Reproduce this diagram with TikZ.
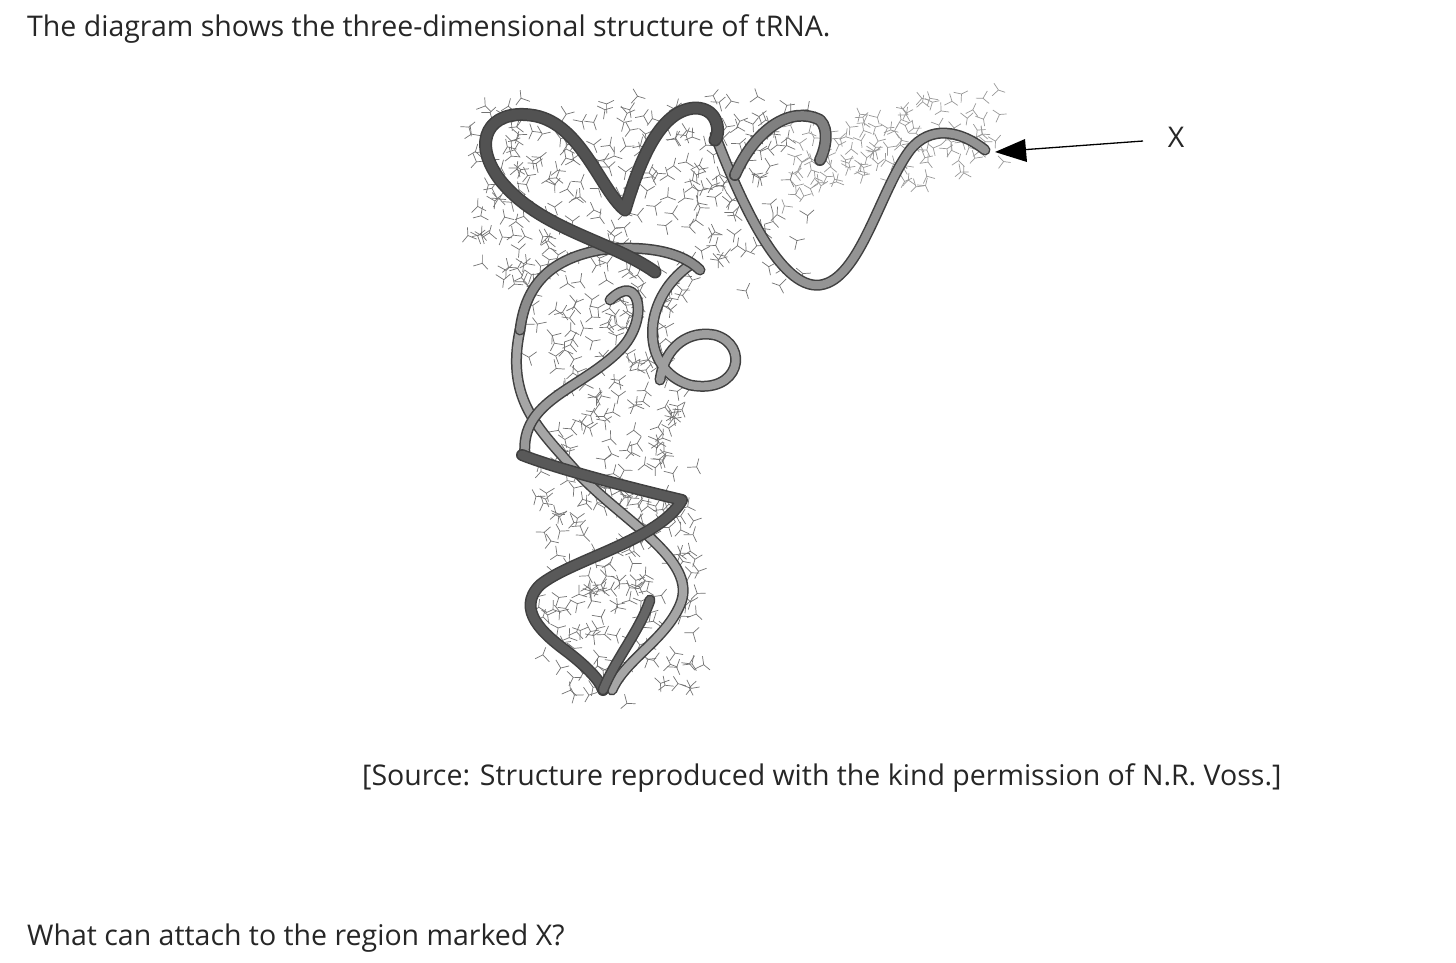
\documentclass[tikz,border=0pt]{standalone}
\usepackage{fontspec}
\setmainfont{Open Sans}
\begin{document}
\begin{tikzpicture}[x=1pt,y=-1pt,
  txt/.style={anchor=base west,inner sep=0pt,font=\fontsize{28.5}{32}\selectfont,text=black!85},
  tube/.style={line width=#1, line cap=round, line join=round},
  base/.style={draw=black!55,line width=0.7pt},
  ]
\useasboundingbox (0,0) rectangle (1456,962);
\fill[white] (0,0) rectangle (1456,962);
\node[txt] (t1) at (27,36) {The diagram shows the three-dimensional structure of tRNA.};
\node[txt] (t2) at (362,785) {[Source: Structure reproduced with the kind permission of N.R. Voss.]};
\node[txt] (t3) at (27,945) {What can attach to the region marked X?};
\node[inner sep=0pt,font=\fontsize{28.5}{32}\selectfont,text=black!85] (xl) at (1176,137) {X};
\coordinate (xtip) at (995,152);
% base clutter
\pgfmathsetseed{7}
\foreach \i in {1,...,260}{
  \pgfmathsetmacro{\px}{470+rnd*330}\pgfmathsetmacro{\py}{100+rnd*190}
  \pgfmathsetmacro{\ang}{rnd*360}
  \draw[base,shift={(\px,\py)},rotate=\ang] (0,0) -- (9,3) -- (14,-4) (9,3) -- (10,11);
}
\foreach \i in {1,...,120}{
  \pgfmathsetmacro{\px}{790+rnd*210}\pgfmathsetmacro{\py}{120+rnd*(90-rnd*20)+ (\px-790)*(-0.15)}
  \pgfmathsetmacro{\ang}{rnd*360}
  \draw[base,draw=black!40,shift={(\px,\py)},rotate=\ang] (0,0) -- (8,3) -- (12,-4) (8,3) -- (9,10);
}
\foreach \i in {1,...,300}{
  \pgfmathsetmacro{\py}{290+rnd*405}
  \pgfmathsetmacro{\px}{530+rnd*150+ (\py-290)*0.05}
  \pgfmathsetmacro{\ang}{rnd*360}
  \draw[base,shift={(\px,\py)},rotate=\ang] (0,0) -- (9,3) -- (14,-4) (9,3) -- (10,11);
}
\def\ribbon#1#2#3{%
  \draw[tube=#2+3pt,black!75] #1;
  \draw[tube=#2,#3] #1;}
\ribbon{(520,330) .. controls (505,400) and (540,430) .. (575,470) .. controls (620,520) and (700,560) .. (680,605) .. controls (665,640) and (625,660) .. (612,690)}{8pt}{black!35}
\ribbon{(610,300) .. controls (640,270) and (650,320) .. (620,350) .. controls (580,390) and (520,400) .. (525,455)}{8pt}{black!40}
\ribbon{(690,265) .. controls (640,300) and (640,370) .. (690,385) .. controls (740,395) and (750,345) .. (715,335) .. controls (690,330) and (665,345) .. (660,380)}{8pt}{black!38}
\ribbon{(520,330) .. controls (525,290) and (545,260) .. (600,250) .. controls (640,245) and (680,250) .. (700,270)}{8pt}{black!45}
\ribbon{(715,135) .. controls (740,200) and (780,290) .. (820,285) .. controls (860,280) and (880,190) .. (910,150) .. controls (930,125) and (960,130) .. (985,150)}{8pt}{black!42}
\ribbon{(735,175) .. controls (755,130) and (790,105) .. (820,120) .. controls (830,130) and (825,150) .. (820,160)}{9pt}{black!50}
\ribbon{(655,272) .. controls (610,240) and (540,230) .. (500,180) .. controls (470,140) and (490,110) .. (530,115) .. controls (580,120) and (600,190) .. (625,210) .. controls (640,160) and (660,110) .. (695,108) .. controls (720,108) and (720,135) .. (715,140)}{10pt}{black!68}
\ribbon{(522,455) .. controls (560,470) and (640,490) .. (682,500) .. controls (660,540) and (570,560) .. (540,585) .. controls (515,610) and (545,635) .. (565,650) .. controls (585,665) and (600,680) .. (603,690)}{9pt}{black!65}
\ribbon{(603,690) .. controls (615,660) and (640,630) .. (650,600)}{8pt}{black!60}
\draw[line width=1.3pt] (1143,141) -- (1020,150);
\fill (xtip) -- (1025,139) -- (1027,162) -- cycle;
\end{tikzpicture}
\end{document}
